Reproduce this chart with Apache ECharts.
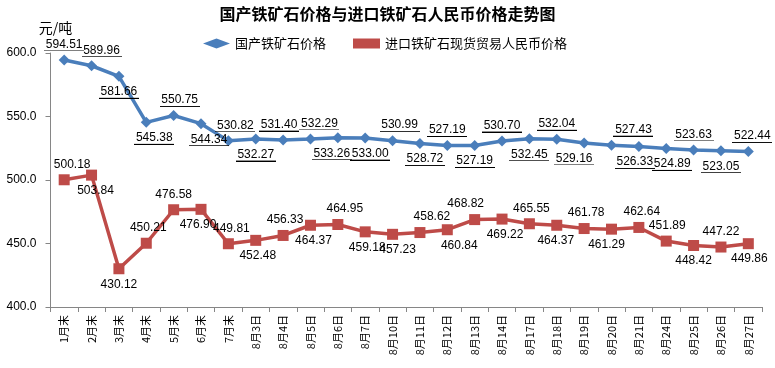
<!DOCTYPE html>
<html><head><meta charset="utf-8">
<script src="https://cdn.jsdelivr.net/npm/echarts@6/dist/echarts.min.js"></script>
<style>html,body{margin:0;padding:0;background:#fff}#c{width:775px;height:368px}</style>
</head><body><div id="c"></div>
<script>
const categories = ['1月末','2月末','3月末','4月末','5月末','6月末','7月末','8月3日','8月4日','8月5日','8月6日','8月7日','8月10日','8月11日','8月12日','8月13日','8月14日','8月17日','8月18日','8月19日','8月20日','8月21日','8月24日','8月25日','8月26日','8月27日'];
const domestic = [594.51,589.96,581.66,545.38,550.75,544.34,530.82,532.27,531.40,532.29,533.26,533.00,530.99,528.72,527.19,527.19,530.70,532.45,532.04,529.16,527.43,526.33,524.89,523.63,523.05,522.44];
const imported = [500.18,503.84,430.12,450.21,476.58,476.90,449.81,452.48,456.33,464.37,464.95,459.18,457.23,458.62,460.84,468.82,469.22,465.55,464.37,461.78,461.29,462.64,451.89,448.42,447.22,449.86];
const yTicks = [400, 450, 500, 550, 600];

// label placement (style only): T = above, B = below; horizontal nudges in px
const domSide = 'TTBBTBTBTTBBTBTBTBTBTBBTBT';
const domShift = [0,10,0,8,6,8,7,0,-4,9,-6,5,7,5,0,0,0,0,0,-10,22,-4,6,0,0,4];
const impSide = 'TBBTTBTBTBTBBTBTBTBTBTTBTB';
const impShift = [8,4,0,2,0,-3,3,2,2,3,7,2,5,12,12,-9,3,2,-1,2,-5,3,1,0,0,1];

// underline image (1px black line at the bottom of the text box)
const ul = document.createElement('canvas');
ul.width = 40; ul.height = 14;
const uctx = ul.getContext('2d');
uctx.fillStyle = '#000';
uctx.fillRect(0, 13, 40, 1);

const chart = echarts.init(document.getElementById('c'));
const FONT = 'Liberation Sans, Arial, sans-serif';
function withLabels(vals, sides, shifts) {
  return vals.map((v, i) => ({
    value: v,
    label: { position: sides[i] === 'T' ? 'top' : 'bottom', offset: [shifts[i], 0] }
  }));
}
chart.setOption({
  animation: false,
  title: {
    text: '国产铁矿石价格与进口铁矿石人民币价格走势图',
    left: 'center', top: 1,
    textStyle: { fontFamily: 'Noto Sans CJK SC', fontWeight: 'bold', fontSize: 16, color: '#000' }
  },
  legend: {
    top: 32, left: 198, itemGap: 27, itemWidth: 27, itemHeight: 10,
    textStyle: { fontFamily: 'Noto Sans CJK SC', fontSize: 13, color: '#000' },
    data: [
      { name: '国产铁矿石价格', icon: 'diamond' },
      { name: '进口铁矿石现货贸易人民币价格', icon: 'rect' }
    ]
  },
  grid: { left: 50.5, right: 13, top: 53, bottom: 61 },
  xAxis: {
    type: 'category', data: categories, boundaryGap: true,
    axisLine: { lineStyle: { color: '#868686' } },
    axisTick: { show: true, alignWithLabel: false, length: 5, lineStyle: { color: '#868686' } },
    axisLabel: { rotate: 90, interval: 0, fontFamily: 'Noto Sans CJK SC', fontSize: 11, color: '#000', margin: 8 }
  },
  yAxis: {
    type: 'value', min: yTicks[0], max: yTicks[yTicks.length - 1], interval: 50,
    name: '元/吨', nameLocation: 'end', nameGap: 18,
    nameTextStyle: { fontFamily: 'Noto Sans CJK SC', fontSize: 14, color: '#000', align: 'center', padding: [0, 0, 0, 10] },
    axisLine: { show: true, lineStyle: { color: '#868686' } },
    axisTick: { show: true, length: 5, lineStyle: { color: '#868686' } },
    splitLine: { show: false },
    axisLabel: { fontFamily: FONT, fontSize: 12, color: '#000', formatter: v => v.toFixed(1), margin: 14 }
  },
  series: [
    {
      name: '国产铁矿石价格', type: 'line',
      data: withLabels(domestic, domSide, domShift),
      symbol: 'diamond', symbolSize: 11,
      lineStyle: { color: '#4A7EBB', width: 3.5 },
      itemStyle: { color: '#4A7EBB' },
      label: {
        show: true, distance: 3,
        formatter: p => '{v|' + p.value.toFixed(2) + '}',
        rich: {
          v: { fontFamily: FONT, fontSize: 12, color: '#000', height: 14, lineHeight: 14, backgroundColor: { image: ul } }
        }
      }
    },
    {
      name: '进口铁矿石现货贸易人民币价格', type: 'line',
      data: withLabels(imported, impSide, impShift),
      symbol: 'rect', symbolSize: 11,
      lineStyle: { color: '#BE4B48', width: 3.5 },
      itemStyle: { color: '#BE4B48' },
      label: {
        show: true, distance: 4,
        fontFamily: FONT, fontSize: 12, color: '#000',
        formatter: p => p.value.toFixed(2)
      }
    }
  ]
});
</script></body></html>
